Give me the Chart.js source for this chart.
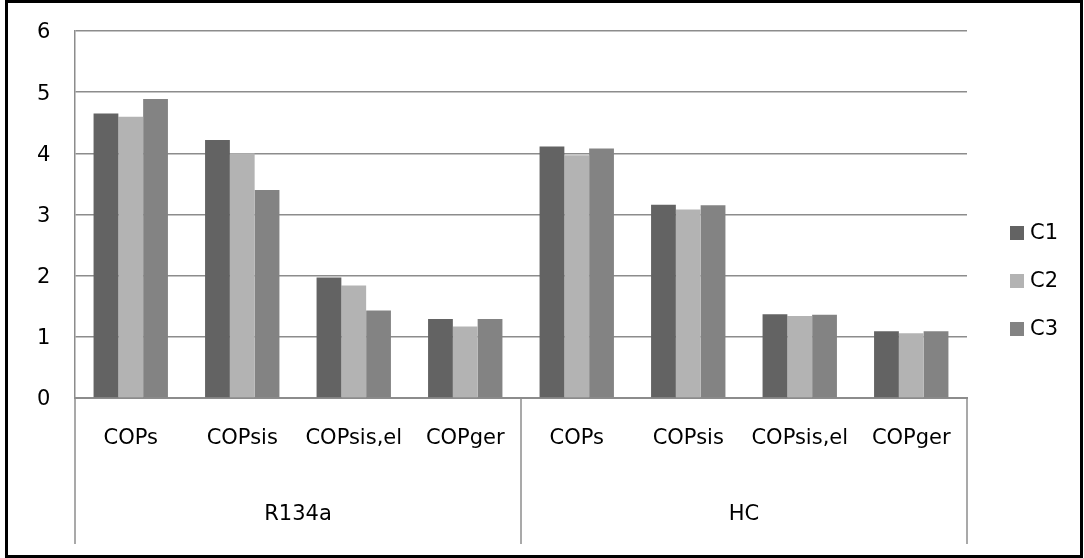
<!DOCTYPE html>
<html>
<head>
<meta charset="utf-8">
<script src="https://cdn.jsdelivr.net/npm/chart.js@4"></script>
<style>
  html, body { margin: 0; padding: 0; background: #fff; }
  #wrap { width: 1084px; height: 558px; }
</style>
</head>
<body>
<div id="wrap"><canvas id="chart" width="1084" height="558"></canvas></div>
<script>
// Categories (two levels)
const subCategories = ['COPs', 'COPsis', 'COPsis,el', 'COPger', 'COPs', 'COPsis', 'COPsis,el', 'COPger'];
const groups = ['R134a', 'HC'];

// Series values
const c1 = [4.65, 4.22, 1.97, 1.29, 4.11, 3.16, 1.37, 1.09];
const c2 = [4.60, 4.00, 1.84, 1.17, 3.97, 3.08, 1.34, 1.06];
const c3 = [4.89, 3.40, 1.43, 1.29, 4.08, 3.15, 1.36, 1.09];

const seriesNames = ['C1', 'C2', 'C3'];
const seriesColors = ['#636363', '#b3b3b3', '#838383'];

const FONT = "'DejaVu Sans', sans-serif";
const FONT_SIZE = 21;
const gridGray = '#8c8c8c';

// group separators under the axis + outer frame + legend
const decorPlugin = {
    id: 'decor',
    afterDraw(chart) {
        const ctx = chart.ctx;
        const area = chart.chartArea;
        const x = chart.scales.x;
        const bottomY = 544;
        ctx.save();
        ctx.strokeStyle = gridGray;
        ctx.lineWidth = 1.5;
        const per = subCategories.length / groups.length;
        const edges = [area.left, area.right];
        for (let g = 1; g < groups.length; g++) {
            edges.push((x.getPixelForValue(g * per - 1) + x.getPixelForValue(g * per)) / 2);
        }
        edges.forEach(px => {
            ctx.beginPath();
            ctx.moveTo(px, area.bottom);
            ctx.lineTo(px, bottomY);
            ctx.stroke();
        });

        // legend
        const cy = chart.height / 2 + 2;
        ctx.font = FONT_SIZE + 'px ' + FONT;
        ctx.textBaseline = 'middle';
        ctx.textAlign = 'left';
        chart.data.datasets.forEach((ds, i) => {
            const y = cy + (i - 1) * 48;
            ctx.fillStyle = ds.backgroundColor;
            ctx.fillRect(1010, y - 7, 14, 14);
            ctx.fillStyle = '#000';
            ctx.fillText(ds.label, 1030, y + 1);
        });

        // outer frame
        ctx.strokeStyle = '#000';
        ctx.lineWidth = 3;
        ctx.strokeRect(6.5, 1.5, 1075, 555);
        ctx.restore();
    }
};

const ctx = document.getElementById('chart').getContext('2d');
new Chart(ctx, {
    type: 'bar',
    data: {
        labels: subCategories,
        datasets: [c1, c2, c3].map((d, i) => ({
            label: seriesNames[i],
            data: d,
            backgroundColor: seriesColors[i],
            borderWidth: 0,
            categoryPercentage: 0.667,
            barPercentage: 1.0
        }))
    },
    options: {
        responsive: false,
        animation: false,
        layout: { padding: { left: 37, top: 31, right: 117, bottom: 0 } },
        plugins: {
            legend: { display: false },
            tooltip: { enabled: false }
        },
        scales: {
            y: {
                min: 0,
                max: 6,
                ticks: { stepSize: 1, padding: 0, labelOffset: 2, crossAlign: 'far', color: '#000', font: { family: FONT, size: FONT_SIZE } },
                grid: { color: gridGray, lineWidth: 1.5, drawTicks: false },
                border: { display: true, color: gridGray, width: 1.5 },
                afterFit: s => { s.width = 38; }
            },
            x: {
                weight: 0,
                ticks: { padding: 28, color: '#000', font: { family: FONT, size: FONT_SIZE }, maxRotation: 0, autoSkip: false },
                grid: { display: true, drawOnChartArea: false, drawTicks: false },
                border: { display: true, color: gridGray, width: 2 },
                afterFit: s => { s.height = 76; }
            },
            x2: {
                type: 'category',
                labels: groups,
                position: 'bottom',
                weight: 1,
                offset: true,
                ticks: { padding: 28, color: '#000', font: { family: FONT, size: FONT_SIZE }, maxRotation: 0 },
                grid: { display: false, drawTicks: false },
                border: { display: false },
                afterFit: s => { s.height = 84; }
            }
        }
    },
    plugins: [decorPlugin]
});
</script>
</body>
</html>
